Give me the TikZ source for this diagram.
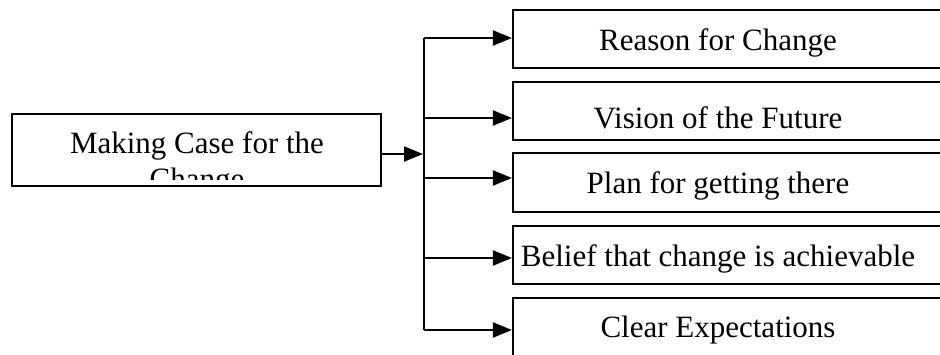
\documentclass[tikz,border=0pt]{standalone}
\usepackage{fontspec}
\setmainfont{Liberation Serif}
\usetikzlibrary{arrows.meta}
\begin{document}
\begin{tikzpicture}[x=1pt,y=-1pt,
  box/.style={draw=black,line width=2.2pt,inner sep=0pt,fill=none},
  lbl/.style={font=\fontsize{31}{35}\selectfont,anchor=base,inner sep=0pt},
  conn/.style={line width=2.2pt},
  arr/.style={line width=2.2pt,-{Triangle[length=19pt,width=15pt]}}]
\useasboundingbox (0,0) rectangle (940,354);
\clip (0,0) rectangle (940,354);
% left box
\node[box,minimum width=369pt,minimum height=72pt] (src) at (196.5,150) {};
\begin{scope}
\clip (14,116) rectangle (379,179);
\node[lbl] (srct) at (197,153) {Making Case for the};
\node[lbl] (srct2) at (197,189) {Change};
\end{scope}
% right boxes
\node[box,minimum width=447pt,minimum height=58pt] (b1) at (736.5,39) {};
\node[box,minimum width=447pt,minimum height=58pt] (b2) at (736.5,111) {};
\node[box,minimum width=447pt,minimum height=59pt] (b3) at (736.5,182.5) {};
\node[box,minimum width=447pt,minimum height=58pt] (b4) at (736.5,255) {};
\node[box,minimum width=447pt,minimum height=58pt] (b5) at (736.5,327) {};
\node[lbl] (t1) at (718,50) {Reason for Change};
\node[lbl] (t2) at (718,128) {Vision of the Future};
\node[lbl] (t3) at (718,193) {Plan for getting there};
\node[lbl] (t4) at (718,266) {Belief that change is achievable};
\node[lbl] (t5) at (718,337) {Clear Expectations};
% trunk
\coordinate (j) at (424,154);
\coordinate (c1) at (424,38);
\coordinate (c2) at (424,118);
\coordinate (c3) at (424,178);
\coordinate (c4) at (424,258);
\coordinate (c5) at (424,330);
\draw[conn] (c1) -- (c5);
\draw[arr] (src.east |- j) -- ([xshift=-1pt]j);
\draw[arr] (c1) -- (c1 -| b1.west);
\draw[arr] (c2) -- (c2 -| b2.west);
\draw[arr] (c3) -- (c3 -| b3.west);
\draw[arr] (c4) -- (c4 -| b4.west);
\draw[arr] (c5) -- (c5 -| b5.west);
\end{tikzpicture}
\end{document}
